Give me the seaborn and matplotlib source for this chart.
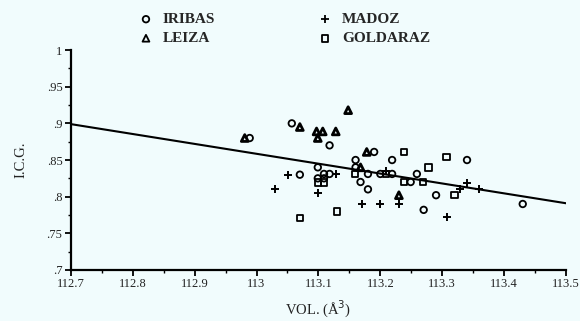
import matplotlib
matplotlib.use("Agg")
import matplotlib.pyplot as plt
import seaborn as sns
import pandas as pd
import numpy as np
from matplotlib.ticker import MultipleLocator

iribas_x = [112.989, 113.057, 113.07, 113.118, 113.099, 113.109, 113.118, 113.099, 113.109,
            113.16, 113.16, 113.18, 113.2, 113.219, 113.168, 113.18, 113.19, 113.219, 113.249,
            113.259, 113.29, 113.27, 113.34, 113.43]
iribas_y = [0.880, 0.900, 0.830, 0.870, 0.840, 0.831, 0.831, 0.825, 0.825,
            0.850, 0.840, 0.831, 0.831, 0.831, 0.820, 0.810, 0.861, 0.850, 0.820,
            0.831, 0.802, 0.782, 0.850, 0.790]

leiza_x = [112.981, 113.07, 113.097, 113.107, 113.128, 113.099, 113.148, 113.178, 113.168, 113.23]
leiza_y = [0.880, 0.895, 0.889, 0.889, 0.889, 0.880, 0.918, 0.861, 0.840, 0.802]

madoz_x = [113.03, 113.051, 113.128, 113.099, 113.209, 113.17, 113.2, 113.23, 113.307,
           113.328, 113.34, 113.36]
madoz_y = [0.810, 0.830, 0.831, 0.805, 0.835, 0.790, 0.790, 0.790, 0.772,
           0.810, 0.819, 0.810]

goldaraz_x = [113.07, 113.13, 113.099, 113.109, 113.159, 113.209, 113.238, 113.238, 113.269,
              113.278, 113.307, 113.32]
goldaraz_y = [0.771, 0.780, 0.819, 0.819, 0.831, 0.831, 0.861, 0.820, 0.820,
              0.840, 0.854, 0.802]

line_x = [112.7, 113.5]
line_y = [0.899, 0.791]

x_ticks = [112.7, 112.8, 112.9, 113.0, 113.1, 113.2, 113.3, 113.4, 113.5]
x_tick_labels = ["112.7", "112.8", "112.9", "113", "113.1", "113.2", "113.3", "113.4", "113.5"]
y_ticks = [0.7, 0.75, 0.8, 0.85, 0.9, 0.95, 1.0]
y_tick_labels = [".7", ".75", ".8", ".85", ".9", ".95", "1"]

df = pd.concat([
    pd.DataFrame({"x": iribas_x, "y": iribas_y, "site": "IRIBAS"}),
    pd.DataFrame({"x": leiza_x, "y": leiza_y, "site": "LEIZA"}),
    pd.DataFrame({"x": madoz_x, "y": madoz_y, "site": "MADOZ"}),
    pd.DataFrame({"x": goldaraz_x, "y": goldaraz_y, "site": "GOLDARAZ"}),
], ignore_index=True)

sns.set_style("white")
plt.rcParams["font.family"] = ["Liberation Serif", "DejaVu Serif"]

bg = "#f1fcfd"
fig = plt.figure(figsize=(5.8, 3.21), dpi=100, facecolor=bg)
ax = fig.add_axes([0.122, 0.159, 0.854, 0.685])
ax.set_facecolor(bg)

styles = {
    "IRIBAS": dict(marker="o", s=22, linewidth=1.3),
    "LEIZA": dict(marker="^", s=24, linewidth=2.0),
    "GOLDARAZ": dict(marker="s", s=22, linewidth=1.3),
}
for site in ["IRIBAS", "LEIZA", "MADOZ", "GOLDARAZ"]:
    sub = df[df.site == site]
    if site == "MADOZ":
        sns.scatterplot(data=sub, x="x", y="y", ax=ax, marker="+", s=40,
                        color="black", linewidth=1.4, label=site)
    else:
        sns.scatterplot(data=sub, x="x", y="y", ax=ax, facecolor="none",
                        edgecolor="black", label=site, **styles[site])

sns.lineplot(x=line_x, y=line_y, ax=ax, color="black", linewidth=1.5)

ax.set_xlim(112.7, 113.5)
ax.set_ylim(0.7, 1.0)
ax.set_xticks(x_ticks)
ax.set_xticklabels(x_tick_labels)
ax.set_yticks(y_ticks)
ax.set_yticklabels(y_tick_labels)
ax.xaxis.set_minor_locator(MultipleLocator(0.05))
ax.yaxis.set_minor_locator(MultipleLocator(0.025))
ax.tick_params(axis="both", which="major", direction="out", length=4, width=1.3,
               labelsize=9, color="black", labelcolor="#222222", pad=2, left=True, bottom=True)
ax.tick_params(axis="both", which="minor", direction="out", length=2.5, width=1.0,
               color="black", left=True, bottom=True)
for side in ["top", "right"]:
    ax.spines[side].set_visible(False)
for side in ["left", "bottom"]:
    ax.spines[side].set_linewidth(1.6)
    ax.spines[side].set_color("black")

ax.set_xlabel("VOL. (Å$^3$)", fontsize=10.5, labelpad=6, color="#222222")
ax.set_ylabel("I.C.G.", fontsize=10.5, labelpad=14, color="#222222")

h, l = ax.get_legend_handles_labels()
ax.get_legend().remove()
leg = fig.legend(h, l, loc="center", bbox_to_anchor=(0.49, 0.91), ncol=2, frameon=False,
                 prop={"weight": "bold", "size": 11}, columnspacing=6.7, handletextpad=0.6,
                 labelspacing=0.35, handlelength=1.0)
for hnd in leg.legend_handles:
    hnd.set_linewidth(1.3)

fig.savefig("out.png", dpi=100, facecolor=bg)
